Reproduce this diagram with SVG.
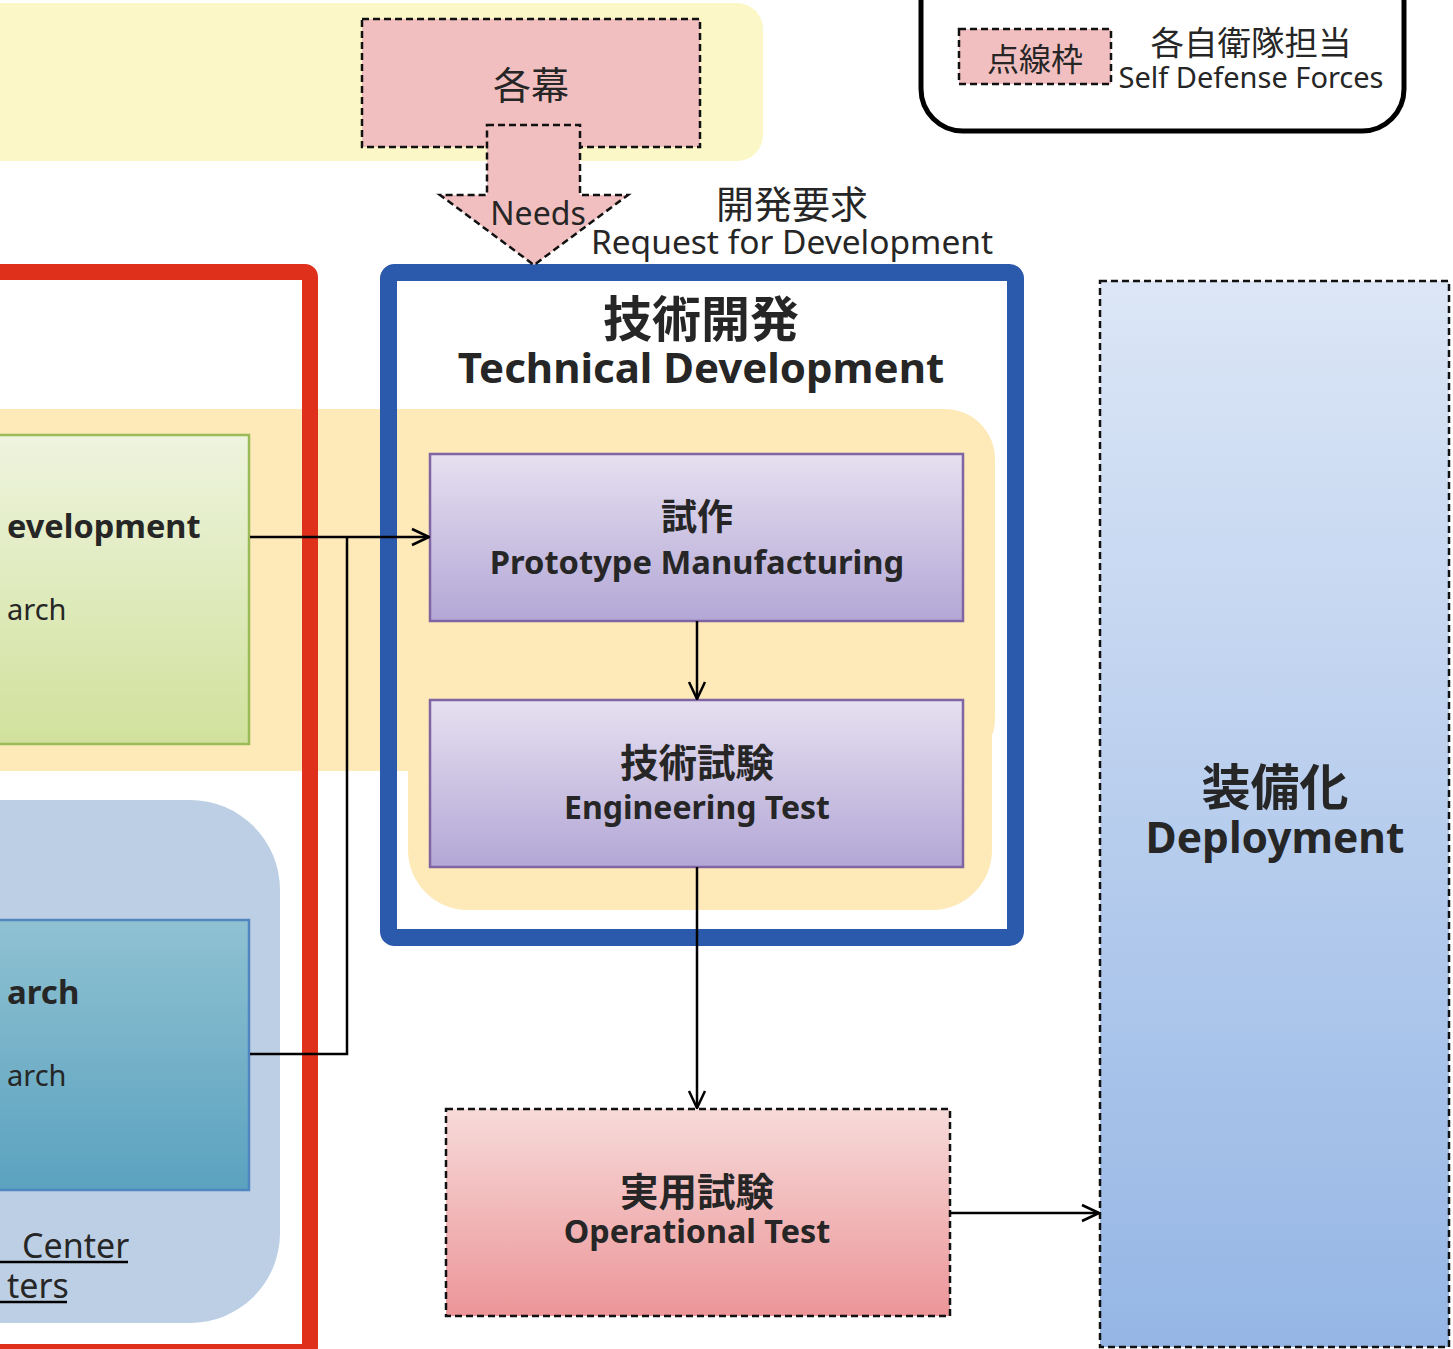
<svg xmlns="http://www.w3.org/2000/svg" width="1453" height="1349" viewBox="0 0 1453 1349">
  <style>
    text { font-family: "Noto Sans", "Open Sans", "Noto Sans CJK JP", sans-serif; fill: #262626; text-anchor: middle; }
    .b { font-weight: bold; }
    .l { text-anchor: start; }
    .dash { stroke: #111; stroke-width: 2.5; stroke-dasharray: 7 4; }
    .conn { fill: none; stroke: #000; stroke-width: 2.5; }
  </style>
  <defs>
    <linearGradient id="gGreen" x1="0" y1="0" x2="0" y2="1">
      <stop offset="0" stop-color="#eef4de"/>
      <stop offset="1" stop-color="#d1e19c"/>
    </linearGradient>
    <linearGradient id="gTeal" x1="0" y1="0" x2="0" y2="1">
      <stop offset="0" stop-color="#8fc1d2"/>
      <stop offset="1" stop-color="#5ba2bf"/>
    </linearGradient>
    <linearGradient id="gPurple" x1="0" y1="0" x2="0" y2="1">
      <stop offset="0" stop-color="#e6e0f0"/>
      <stop offset="1" stop-color="#b3a7d6"/>
    </linearGradient>
    <linearGradient id="gPink" x1="0" y1="0" x2="0" y2="1">
      <stop offset="0" stop-color="#f7dad9"/>
      <stop offset="1" stop-color="#ec9598"/>
    </linearGradient>
    <linearGradient id="gBlue" x1="0" y1="0" x2="0" y2="1">
      <stop offset="0" stop-color="#dce6f6"/>
      <stop offset="1" stop-color="#95b6e5"/>
    </linearGradient>
    <marker id="arr" viewBox="0 0 20 20" refX="19" refY="10" markerWidth="20" markerHeight="20" markerUnits="userSpaceOnUse" orient="auto">
      <path d="M2,2 L19,10 L2,18" fill="none" stroke="#000" stroke-width="2.5"/>
    </marker>
  </defs>

  <!-- background bands -->
  <g id="bands">
    <rect x="-40" y="3" width="803" height="158" rx="26" fill="#fbf7c6"/>
    <path d="M-10,409 H945 A50,50 0 0 1 995,459 V715 Q995,730 992,735 V771 H-10 Z" fill="#fee9b8"/>
    <path d="M408,700 H992 V850 A60,60 0 0 1 932,910 H468 A60,60 0 0 1 408,850 Z" fill="#fee9b8"/>
    <rect x="-100" y="800" width="380" height="523" rx="90" fill="#bccfe4"/>
  </g>

  <!-- outer frames -->
  <g id="research-frame">
    <rect x="-100" y="272" width="410" height="1080" rx="5" fill="none" stroke="#df301b" stroke-width="16"/>
  </g>
  <g id="tech-dev">
    <rect x="388.5" y="272.5" width="627" height="665" rx="6" fill="none" stroke="#2b59ac" stroke-width="17"/>
    <text class="b" x="701" y="337" font-size="49">技術開発</text>
    <text class="b" x="701" y="383" font-size="42">Technical Development</text>
  </g>

  <!-- needs source -->
  <g id="bakumaku">
    <rect x="362" y="19" width="338" height="128" fill="#f2bfc0" class="dash"/>
    <text x="531" y="99" font-size="38">各幕</text>
  </g>
  <g id="needs-arrow">
    <path d="M487,125 H580 V195 H628 L534,265 L440,195 H487 Z" fill="#f2bfc0" class="dash"/>
    <text x="538" y="225" font-size="32">Needs</text>
  </g>
  <g id="request-label">
    <text x="792" y="218" font-size="38">開発要求</text>
    <text x="792" y="254" font-size="33.5">Request for Development</text>
  </g>

  <!-- legend -->
  <g id="legend">
    <rect x="921" y="-40" width="483" height="171" rx="42" fill="#fff" stroke="#000" stroke-width="5"/>
    <rect x="959" y="29" width="152" height="55" fill="#f2bfc0" class="dash"/>
    <text x="1035" y="71" font-size="32">点線枠</text>
    <text x="1251" y="55" font-size="33.5">各自衛隊担当</text>
    <text x="1251" y="88" font-size="29">Self Defense Forces</text>
  </g>

  <!-- left-side research nodes -->
  <g id="node-dev">
    <rect x="-20" y="435" width="269" height="309" fill="url(#gGreen)" stroke="#9bbb59" stroke-width="2.5"/>
    <text class="b l" x="7" y="538" font-size="32.5">evelopment</text>
    <text class="l" x="7" y="620" font-size="29">arch</text>
  </g>
  <g id="node-research">
    <rect x="-20" y="920" width="269" height="270" fill="url(#gTeal)" stroke="#4f86c0" stroke-width="2.5"/>
    <text class="b l" x="7" y="1004" font-size="33">arch</text>
    <text class="l" x="7" y="1086" font-size="29">arch</text>
  </g>
  <g id="centers-label">
    <text class="l" x="22" y="1258" font-size="34">Center</text>
    <line x1="0" y1="1262" x2="128" y2="1262" stroke="#000" stroke-width="2.5"/>
    <text class="l" x="7" y="1298" font-size="34">ters</text>
    <line x1="0" y1="1302" x2="67" y2="1302" stroke="#000" stroke-width="2.5"/>
  </g>

  <!-- technical development steps -->
  <g id="node-prototype">
    <rect x="430" y="454" width="533" height="167" fill="url(#gPurple)" stroke="#8065a3" stroke-width="2.5"/>
    <text class="b" x="697" y="530" font-size="36">試作</text>
    <text class="b" x="697" y="574" font-size="32.7">Prototype Manufacturing</text>
  </g>
  <g id="node-engineering">
    <rect x="430" y="700" width="533" height="167" fill="url(#gPurple)" stroke="#8065a3" stroke-width="2.5"/>
    <text class="b" x="697" y="777" font-size="38.5">技術試験</text>
    <text class="b" x="697" y="819" font-size="32">Engineering Test</text>
  </g>

  <!-- operational test and deployment -->
  <g id="node-operational">
    <rect x="446" y="1109" width="504" height="207" fill="url(#gPink)" class="dash"/>
    <text class="b" x="697" y="1206" font-size="38.5">実用試験</text>
    <text class="b" x="697" y="1243" font-size="32.3">Operational Test</text>
  </g>
  <g id="node-deployment">
    <rect x="1100" y="281" width="349" height="1066" fill="url(#gBlue)" class="dash"/>
    <text class="b" x="1275" y="805" font-size="49">装備化</text>
    <text class="b" x="1275" y="853" font-size="42.5">Deployment</text>
  </g>

  <!-- connectors -->
  <g id="connectors">
    <path class="conn" d="M250,537 H429" marker-end="url(#arr)"/>
    <path class="conn" d="M250,1054 H347 V537"/>
    <path class="conn" d="M697,621 V699" marker-end="url(#arr)"/>
    <path class="conn" d="M697,867 V1108" marker-end="url(#arr)"/>
    <path class="conn" d="M950,1213 H1099" marker-end="url(#arr)"/>
  </g>
</svg>
